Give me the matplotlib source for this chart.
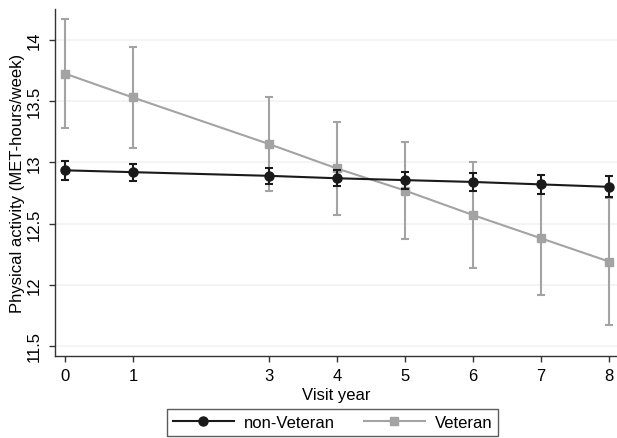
import matplotlib
matplotlib.use("Agg")
import matplotlib.pyplot as plt
from matplotlib.lines import Line2D

plt.rcParams['font.family'] = ['Liberation Sans', 'DejaVu Sans']

years = [0, 1, 3, 4, 5, 6, 7, 8]

nonvet_mean = [12.935, 12.92, 12.89, 12.87, 12.855, 12.84, 12.82, 12.80]
nonvet_err = [0.075, 0.07, 0.065, 0.065, 0.07, 0.07, 0.075, 0.085]

vet_mean = [13.725, 13.53, 13.15, 12.95, 12.77, 12.57, 12.38, 12.19]
vet_err = [0.445, 0.41, 0.38, 0.38, 0.40, 0.43, 0.465, 0.515]

yticks = [11.5, 12, 12.5, 13, 13.5, 14]
ytick_labels = ['11.5', '12', '12.5', '13', '13.5', '14']


def plot_data():
    fig = plt.figure(figsize=(6.17, 4.39), dpi=100)
    ax = fig.add_axes([55 / 617, 1 - 357 / 439, 562 / 617, 347 / 439])

    gray = '#a3a3a3'
    black = '#1a1a1a'

    ax.errorbar(years, vet_mean, yerr=vet_err, color=gray, marker='s',
                markersize=6, linewidth=1.5, elinewidth=1.5, capsize=3,
                capthick=1.5, zorder=2)
    ax.errorbar(years, nonvet_mean, yerr=nonvet_err, color=black, marker='o',
                markersize=6.5, linewidth=1.5, elinewidth=1.5, capsize=3,
                capthick=1.5, zorder=3)

    ax.set_xlim(-0.147, 8.12)
    ax.set_ylim(11.418, 14.253)
    ax.set_xticks(years)
    ax.set_yticks(yticks)
    ax.set_yticklabels(ytick_labels, rotation=90, va='center')
    ax.tick_params(axis='both', labelsize=12, length=4.5, width=1,
                   color='#333333', pad=4)
    ax.tick_params(axis='y', pad=5)

    ax.grid(axis='y', color='#f2f2f2', linewidth=1.2)
    ax.set_axisbelow(True)
    for side in ['top', 'right']:
        ax.spines[side].set_visible(False)
    for side in ['left', 'bottom']:
        ax.spines[side].set_color('#333333')
        ax.spines[side].set_linewidth(1)

    ax.set_xlabel('Visit year', fontsize=12, labelpad=3)
    ax.set_ylabel('Physical activity (MET-hours/week)', fontsize=12)
    ax.yaxis.set_label_coords(-0.053, 0.5)

    handles = [
        Line2D([], [], color=black, marker='o', markersize=6.5, linewidth=1.5),
        Line2D([], [], color=gray, marker='s', markersize=6, linewidth=1.5),
    ]
    leg = fig.legend(handles, ['non-Veteran', 'Veteran'], loc='upper center',
                     bbox_to_anchor=(332.5 / 617, 1 - 410 / 439), ncol=2,
                     fontsize=12, frameon=True, fancybox=False,
                     handlelength=3.65, handletextpad=0.6, columnspacing=1.75,
                     borderpad=0.35, borderaxespad=0, edgecolor='#333333')
    leg.get_frame().set_linewidth(1)

    fig.savefig('out.png', dpi=100)


def main():
    plot_data()


if __name__ == "__main__":
    main()
